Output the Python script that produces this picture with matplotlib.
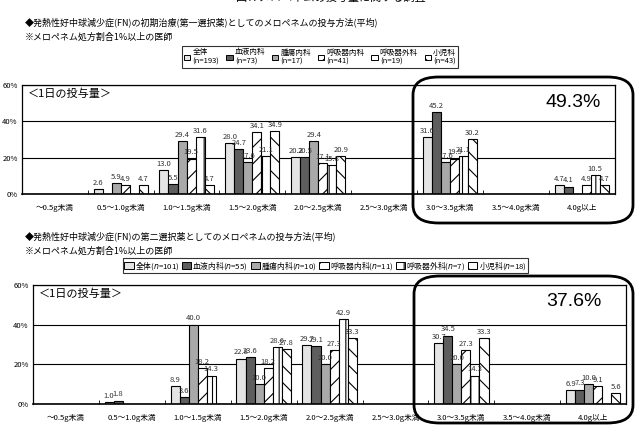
import numpy as np
import matplotlib
matplotlib.use("Agg")
import matplotlib.pyplot as plt
from matplotlib.patches import Patch, FancyBboxPatch

plt.rcParams['font.family'] = ['Noto Sans CJK JP', 'DejaVu Sans']
plt.rcParams['hatch.linewidth'] = 0.8

categories = ['～0.5g未満', '0.5～1.0g未満', '1.0～1.5g未満', '1.5～2.0g未満', '2.0～2.5g未満',
              '2.5～3.0g未満', '3.0～3.5g未満', '3.5～4.0g未満', '4.0g以上']
series = ['全体', '血液内科', '腫瘍内科', '呼吸器内科', '呼吸器外科', '小児科']
n1 = [193, 73, 17, 41, 19, 43]
n2 = [101, 55, 10, 11, 7, 18]

# first choice (rows = series, cols = categories)
first = [
    [0, 2.6, 13.0, 28.0, 20.2, 0, 31.6, 0, 4.7],
    [0, 0, 5.5, 24.7, 20.5, 0, 45.2, 0, 4.1],
    [0, 5.9, 29.4, 17.6, 29.4, 0, 17.6, 0, 0],
    [0, 4.9, 19.5, 34.1, 17.1, 0, 19.5, 0, 4.9],
    [0, 0, 31.6, 21.1, 15.8, 0, 21.1, 0, 10.5],
    [0, 4.7, 4.7, 34.9, 20.9, 0, 30.2, 0, 4.7],
]
# second choice
second = [
    [0, 1.0, 8.9, 22.8, 29.7, 0, 30.7, 0, 6.9],
    [0, 1.8, 3.6, 23.6, 29.1, 0, 34.5, 0, 7.3],
    [0, 0, 40.0, 10.0, 20.0, 0, 20.0, 0, 10.0],
    [0, 0, 18.2, 18.2, 27.3, 0, 27.3, 0, 9.1],
    [0, 0, 14.3, 28.6, 42.9, 0, 14.3, 0, 0],
    [0, 0, 0, 27.8, 33.3, 0, 33.3, 0, 5.6],
]

colors = ['#e4e4e4', '#5e5e5e', '#a9a9a9', 'white', 'white', 'white']
hatches = [None, None, None, '//', '||', '\\\\']

fig = plt.figure(figsize=(6.43, 4.46), dpi=100)


def draw(ax, data):
    x = np.arange(len(categories))
    w = 0.137
    for i, vals in enumerate(data):
        pos = x + (i - 2.5) * w
        bars = ax.bar(pos, vals, w, color=colors[i], edgecolor='black',
                      linewidth=0.8, hatch=hatches[i])
        for b, v in zip(bars, vals):
            if v > 0:
                ax.text(b.get_x() + b.get_width() / 2, v + 1.2, f'{v:.1f}',
                        ha='center', va='bottom', fontsize=5.5, color='#333333')
    ax.set_ylim(0, 60)
    ax.set_xlim(-0.5, len(categories) - 0.5)
    ax.set_yticks([0, 20, 40, 60])
    ax.set_yticklabels(['0%', '20%', '40%', '60%'], fontsize=5.5)
    ax.set_xticks(x)
    ax.set_xticklabels(categories, fontsize=5.5)
    ax.tick_params(axis='x', length=0, pad=7)
    ax.tick_params(axis='y', length=0, pad=3)
    ax.set_xticks(np.arange(len(categories) + 1) - 0.5, minor=True)
    ax.tick_params(axis='x', which='minor', length=3, direction='in')
    ax.grid(axis='y', color='black', linewidth=0.8)
    ax.set_axisbelow(True)
    for s in ax.spines.values():
        s.set_linewidth(0.9)
    ax.spines['bottom'].set_linewidth(1.2)
    ax.text(0.01, 0.97, '＜1日の投与量＞', transform=ax.transAxes, ha='left', va='top', fontsize=8)


ax1 = fig.add_axes([0.034, 0.565, 0.922, 0.244])
draw(ax1, first)
ax2 = fig.add_axes([0.051, 0.094, 0.923, 0.267])
draw(ax2, second)

# headers
fig.text(0.515, 1.005, '図7. メロペネムの投与量に関する調査', ha='center', va='center', fontsize=8)
fig.text(0.038, 0.950, '◆発熱性好中球減少症(FN)の初期治療(第一選択薬)としてのメロペネムの投与方法(平均)',
         ha='left', va='center', fontsize=6.5)
fig.text(0.038, 0.916, '※メロペネム処方割合1%以上の医師', ha='left', va='center', fontsize=6.5)
fig.text(0.038, 0.471, '◆発熱性好中球減少症(FN)の第二選択薬としてのメロペネムの投与方法(平均)',
         ha='left', va='center', fontsize=6.5)
fig.text(0.038, 0.437, '※メロペネム処方割合1%以上の医師', ha='left', va='center', fontsize=6.5)

# legends
h1 = [Patch(facecolor=colors[i], edgecolor='black', hatch=hatches[i], linewidth=0.7,
            label=f'{series[i]}\n(n={n1[i]})') for i in range(6)]
leg1 = fig.legend(handles=h1, loc='center', bbox_to_anchor=(0.498, 0.872), ncol=6,
                  fontsize=5.5, frameon=True, fancybox=False, edgecolor='black',
                  handlelength=0.8, handleheight=0.8, handletextpad=0.3, columnspacing=0.9,
                  borderpad=0.3)
leg1.get_frame().set_linewidth(0.8)

h2 = [Patch(facecolor=colors[i], edgecolor='black', hatch=hatches[i], linewidth=0.7,
            label=f'{series[i]}($n$={n2[i]})') for i in range(6)]
leg2 = fig.legend(handles=h2, loc='center', bbox_to_anchor=(0.506, 0.405), ncol=6,
                  fontsize=5.6, frameon=True, fancybox=False, edgecolor='black',
                  handlelength=1.2, handleheight=1.0, handletextpad=0.15, columnspacing=0.35,
                  borderpad=0.15)
leg2.get_frame().set_linewidth(0.8)

# highlight boxes
for (x0, y0, x1, y1), txt, tx, ty in [((413, 77, 633, 223), '49.3%', 0.935, 0.77),
                                       ((414, 276, 633, 423), '37.6%', 0.935, 0.325)]:
    box = FancyBboxPatch((x0 / 643, 1 - y1 / 446), (x1 - x0) / 643, (y1 - y0) / 446,
                         boxstyle='round,pad=0,rounding_size=0.04',
                         transform=fig.transFigure, fill=False, edgecolor='black', linewidth=2)
    fig.patches.append(box)
    fig.text(tx, ty, txt, ha='right', va='center', fontsize=14, family=['Liberation Sans', 'DejaVu Sans'])

fig.savefig('out.png', dpi=100)
